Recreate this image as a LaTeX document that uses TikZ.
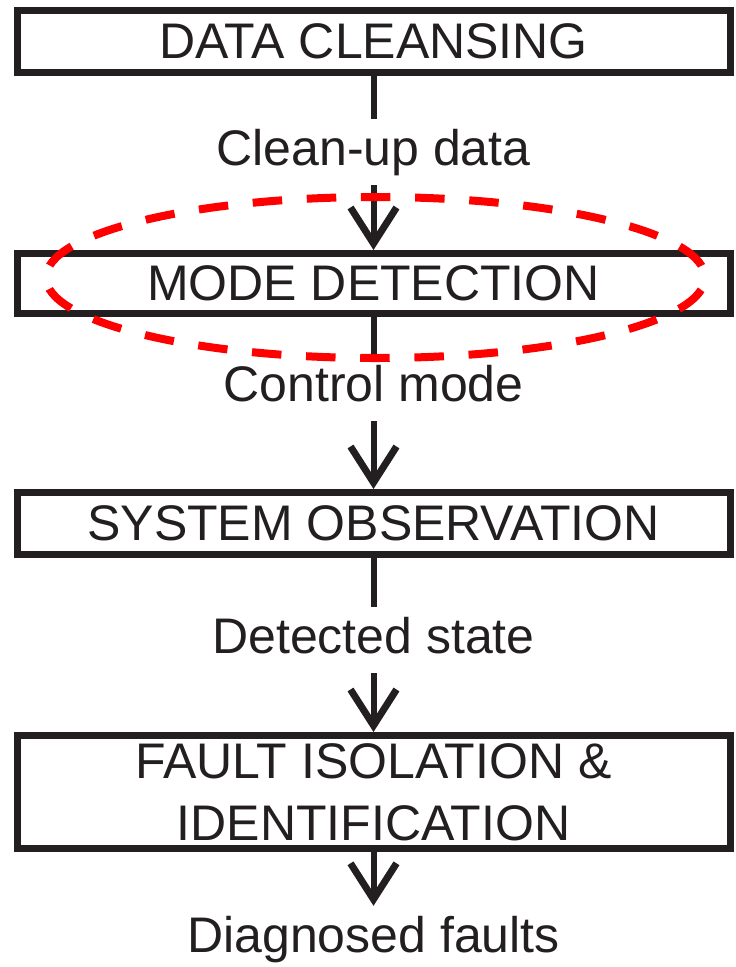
\documentclass[tikz,border=0pt]{standalone}
\usepackage{fontspec}
\setmainfont{Liberation Sans}
\usetikzlibrary{arrows.meta}
\definecolor{ink}{RGB}{35,31,32}
\definecolor{hlred}{RGB}{255,0,0}
\begin{document}
\begin{tikzpicture}[x=1pt,y=-1pt,
  stage/.style={draw=ink, line width=7pt, minimum width=713pt, minimum height=62pt, inner sep=0pt, text=ink, font=\fontsize{50pt}{62pt}\selectfont, align=center, fill=white},
  flowlabel/.style={text=ink, font=\fontsize{50pt}{62pt}\selectfont, anchor=base, inner xsep=0pt, inner ysep=9pt, text height=37pt, text depth=11pt},
  link/.style={draw=ink, line width=6pt},
  flowarrow/.style={link, -{Straight Barb[length=36pt,width=46pt,line width=7pt]}},
  highlight/.style={draw=hlred, line width=8pt, dash pattern=on 29.5pt off 24.7pt, dash phase=41.85pt}]
\useasboundingbox (0,0) rectangle (736,967);
\fill[white] (0,0) rectangle (736,967);
\node[stage] (dc) at (373.5,41.5) {DATA CLEANSING};
\node[flowlabel] (l1) at (373.5,165) {Clean-up data};
\node[stage, minimum height=60pt] (md) at (373.5,283.5) {MODE DETECTION};
\node[flowlabel] (l2) at (373.5,401) {Control mode};
\node[stage] (so) at (373.5,523.5) {SYSTEM OBSERVATION};
\node[flowlabel] (l3) at (373.5,653) {Detected state};
\node[stage, minimum height=113pt] (fi) at (373.5,792) {FAULT ISOLATION \&\\IDENTIFICATION};
\node[flowlabel] (l4) at (373.5,952) {Diagnosed faults};
\draw[link] (dc.south) -- (l1.north);
\draw[flowarrow] (l1.south) -- (md.north);
\draw[link] (md.south) -- (l2.north);
\draw[flowarrow] (l2.south) -- (so.north);
\draw[link] (so.south) -- (l3.north);
\draw[flowarrow] (l3.south) -- (fi.north);
\draw[flowarrow] (fi.south) -- (l4.north);
\draw[highlight] (375.5,277.5) ellipse [x radius=329.5pt, y radius=80.5pt];
\end{tikzpicture}
\end{document}
